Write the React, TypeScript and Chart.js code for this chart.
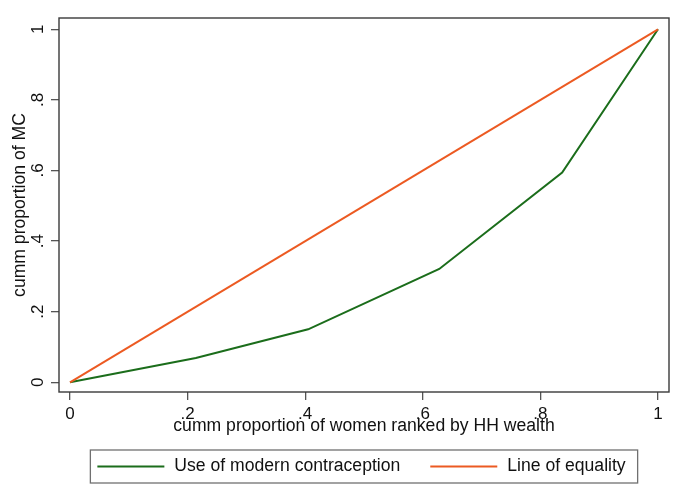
import React, { useEffect, useRef } from "react";
import { Chart, registerables } from "chart.js";

Chart.register(...registerables);

// ---- data ----
const xCumWomen = [0, 0.214, 0.405, 0.628, 0.837, 1];
const yCumMC = [0, 0.069, 0.15, 0.321, 0.594, 1];
const xEquality = [0, 1];
const yEquality = [0, 1];
const tickValues = [0, 0.2, 0.4, 0.6, 0.8, 1];
const tickLabels = ["0", ".2", ".4", ".6", ".8", "1"];
const seriesNames = ["Use of modern contraception", "Line of equality"];
const xTitle = "cumm proportion of women ranked by HH wealth";
const yTitle = "cumm proportion of MC";

// ---- styles ----
const FONT = "'Liberation Sans', Arial, Helvetica, sans-serif";
const GREEN = "#1B6D1B";
const ORANGE = "#EC5A22";
const FRAME = "#3a3a3a";
const TICK = "#555555";
const TEXT = "#111111";
const LEGEND_BORDER = "#707070";

const framePlugin = {
  id: "frameAndLegend",
  afterDraw(chart: any) {
    const { ctx, chartArea: a } = chart;
    ctx.save();
    // plot frame
    ctx.strokeStyle = FRAME;
    ctx.lineWidth = 1.4;
    ctx.strokeRect(a.left, a.top, a.right - a.left, a.bottom - a.top);

    // legend
    const size = 17.6;
    ctx.font = `${size}px ${FONT}`;
    const lineLen = 67;
    const gapLT = 10;
    const gapItems = 30;
    const padL = 7;
    const padR = 12;
    const items = chart.data.datasets.map((d: any) => ({
      label: d.label as string,
      color: d.borderColor as string,
      w: ctx.measureText(d.label).width,
    }));
    let total = padL + padR;
    items.forEach((it: any, i: number) => {
      total += lineLen + gapLT + it.w + (i < items.length - 1 ? gapItems : 0);
    });
    const cx = (a.left + a.right) / 2;
    const boxL = cx - total / 2;
    const boxT = a.bottom + 58;
    const boxH = 33;
    ctx.strokeStyle = LEGEND_BORDER;
    ctx.lineWidth = 1.3;
    ctx.strokeRect(boxL, boxT, total, boxH);
    const cy = boxT + boxH / 2;
    let x = boxL + padL;
    ctx.textBaseline = "middle";
    ctx.textAlign = "left";
    items.forEach((it: any) => {
      ctx.strokeStyle = it.color;
      ctx.lineWidth = 2;
      ctx.beginPath();
      ctx.moveTo(x, cy);
      ctx.lineTo(x + lineLen, cy);
      ctx.stroke();
      x += lineLen + gapLT;
      ctx.fillStyle = TEXT;
      ctx.fillText(it.label, x, cy);
      x += it.w + gapItems;
    });
    ctx.restore();
  },
};

export default function App() {
  const ref = useRef<HTMLCanvasElement | null>(null);

  useEffect(() => {
    document.body.style.margin = "0";
    const canvas = ref.current;
    if (!canvas) return;
    const chart = new Chart(canvas, {
      type: "line",
      data: {
        datasets: [
          {
            label: seriesNames[0],
            data: xCumWomen.map((x, i) => ({ x, y: yCumMC[i] })),
            borderColor: GREEN,
            backgroundColor: GREEN,
            borderWidth: 2,
            pointRadius: 0,
            tension: 0,
            order: 2,
          },
          {
            label: seriesNames[1],
            data: xEquality.map((x, i) => ({ x, y: yEquality[i] })),
            borderColor: ORANGE,
            backgroundColor: ORANGE,
            borderWidth: 2,
            pointRadius: 0,
            tension: 0,
            order: 1,
          },
        ],
      },
      options: {
        responsive: false,
        animation: false,
        events: [],
        layout: { padding: { left: 0, top: 18, right: 16, bottom: 59 } },
        plugins: {
          legend: { display: false },
          tooltip: { enabled: false },
        },
        scales: {
          x: {
            type: "linear",
            min: -0.0187,
            max: 1.0187,
            afterBuildTicks: (s: any) => {
              s.ticks = tickValues.map((v) => ({ value: v }));
            },
            afterFit: (s: any) => {
              s.height = 45;
            },
            grid: {
              display: true,
              drawOnChartArea: false,
              drawTicks: true,
              tickLength: 8,
              color: TICK,
              lineWidth: 1.3,
            },
            border: { display: false },
            ticks: {
              autoSkip: false,
              maxRotation: 0,
              minRotation: 0,
              padding: 3.8,
              color: TEXT,
              font: { family: FONT, size: 17 },
              callback: (_v: any, i: number) => tickLabels[i],
            },
            title: {
              display: true,
              text: xTitle,
              color: TEXT,
              font: { family: FONT, size: 17.6 },
              padding: { top: 0, bottom: 0 },
            },
          },
          y: {
            type: "linear",
            min: -0.0275,
            max: 1.032,
            afterBuildTicks: (s: any) => {
              s.ticks = tickValues.map((v) => ({ value: v }));
            },
            afterFit: (s: any) => {
              s.width = 59;
            },
            grid: {
              display: true,
              drawOnChartArea: false,
              drawTicks: true,
              tickLength: 8,
              color: TICK,
              lineWidth: 1.3,
            },
            border: { display: false },
            ticks: {
              autoSkip: false,
              minRotation: 90,
              maxRotation: 90,
              crossAlign: "center",
              padding: 5.6,
              color: TEXT,
              font: { family: FONT, size: 17 },
              callback: (_v: any, i: number) => tickLabels[i],
            },
            title: {
              display: true,
              text: yTitle,
              color: TEXT,
              font: { family: FONT, size: 17.6 },
              padding: { top: 10, bottom: 0 },
            },
          },
        },
      },
      plugins: [framePlugin],
    });
    return () => chart.destroy();
  }, []);

  return <canvas ref={ref} width={685} height={496} style={{ display: "block", width: 685, height: 496 }} />;
}
